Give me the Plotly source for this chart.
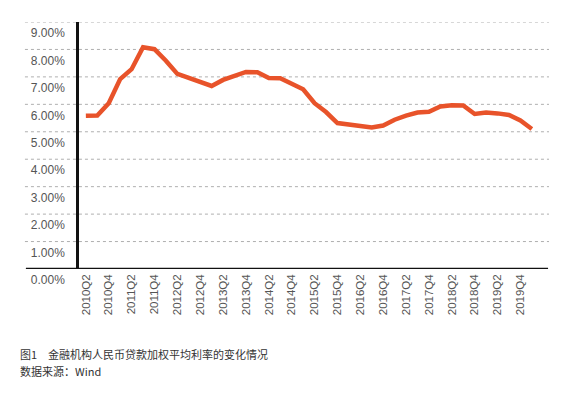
import plotly.graph_objects as go

quarters = ["2010Q2","2010Q3","2010Q4","2011Q1","2011Q2","2011Q3","2011Q4","2012Q1","2012Q2","2012Q3",
            "2012Q4","2013Q1","2013Q2","2013Q3","2013Q4","2014Q1","2014Q2","2014Q3","2014Q4","2015Q1",
            "2015Q2","2015Q3","2015Q4","2016Q1","2016Q2","2016Q3","2016Q4","2017Q1","2017Q2","2017Q3",
            "2017Q4","2018Q1","2018Q2","2018Q3","2018Q4","2019Q1","2019Q2","2019Q3","2019Q4","2020Q1"]
rates = [5.58, 5.59, 6.04, 6.92, 7.28, 8.08, 8.01, 7.59, 7.11, 6.95,
         6.80, 6.67, 6.89, 7.04, 7.18, 7.17, 6.96, 6.95, 6.77, 6.55,
         6.04, 5.72, 5.32, 5.27, 5.22, 5.16, 5.23, 5.44, 5.59, 5.70,
         5.73, 5.92, 5.97, 5.96, 5.65, 5.70, 5.67, 5.61, 5.41, 5.10]
tick_labels = quarters[0:39:2]
y_ticks = [0, 1, 2, 3, 4, 5, 6, 7, 8, 9]
y_labels = ["%.2f%%" % v for v in y_ticks]
caption = "图1　金融机构人民币贷款加权平均利率的变化情况"
source = "数据来源：Wind"

fig = go.Figure()
fig.add_trace(go.Scatter(x=quarters, y=rates, mode="lines",
                         line=dict(color="#E8532A", width=4.5), hoverinfo="skip"))

shapes = []
for v in y_ticks[1:]:
    shapes.append(dict(type="line", xref="paper", yref="y", x0=-0.115, x1=1.0, y0=v, y1=v,
                       line=dict(color="#AFAFAF", width=1, dash="dot"), layer="below"))
shapes.append(dict(type="line", xref="paper", yref="y", x0=-0.113, x1=0.998, y0=0, y1=0,
                   line=dict(color="#111111", width=2.5)))

fig.update_layout(
    width=570, height=396,
    margin=dict(l=79, r=21, t=22, b=126.5),
    paper_bgcolor="white", plot_bgcolor="white",
    showlegend=False,
    font=dict(family="Liberation Sans, Arial, sans-serif", color="#555555", size=12),
    shapes=shapes,
    xaxis=dict(type="category", range=[-0.6, 40.5], tickmode="array",
               tickvals=tick_labels, ticktext=tick_labels, tickangle=-90,
               showgrid=False, zeroline=False, showline=False, ticks="", automargin=False,
               tickfont=dict(size=11.5, color="#555555"), ticklabelstandoff=2),
    yaxis=dict(range=[0, 9], tickmode="array", tickvals=y_ticks, ticktext=y_labels,
               showgrid=False, zeroline=False, showline=True, linecolor="#111111", linewidth=2.5,
               ticks="", tickfont=dict(size=12, color="#555555"), automargin=False,
               ticklabelshift=11, ticklabelstandoff=9),
    annotations=[
        dict(text=caption, xref="paper", yref="paper", x=(18-79)/470, y=(396-126.5-355)/247.5,
             xanchor="left", yanchor="middle", showarrow=False,
             font=dict(family="Noto Sans CJK SC", size=11, color="#333333")),
        dict(text=source, xref="paper", yref="paper", x=(18-79)/470, y=(396-126.5-372)/247.5,
             xanchor="left", yanchor="middle", showarrow=False,
             font=dict(family="Noto Sans CJK SC", size=11, color="#333333")),
    ],
)
fig.write_html("out.html", config={"displayModeBar": False},
               post_script="document.body.style.margin='0';document.body.style.overflow='hidden';")
